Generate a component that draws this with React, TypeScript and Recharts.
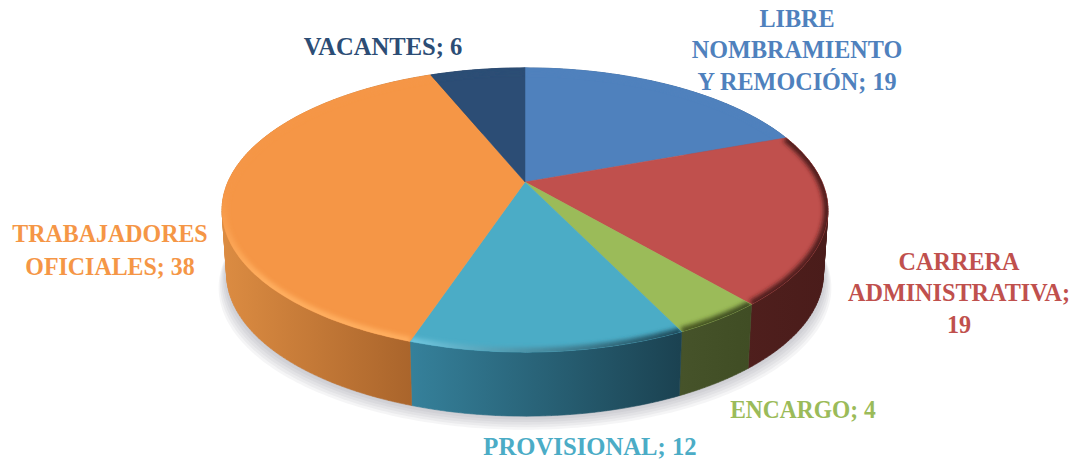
import React from "react";
import { PieChart, Pie, Cell } from "recharts";

const categories = ["LIBRE NOMBRAMIENTO Y REMOCIÓN", "CARRERA ADMINISTRATIVA", "ENCARGO", "PROVISIONAL", "TRABAJADORES OFICIALES", "VACANTES"];
const values = [19, 19, 4, 12, 38, 6];
const labelLines = [
  ["LIBRE", "NOMBRAMIENTO", "Y REMOCIÓN; 19"],
  ["CARRERA", "ADMINISTRATIVA;", "19"],
  ["ENCARGO; 4"],
  ["PROVISIONAL; 12"],
  ["TRABAJADORES", "OFICIALES; 38"],
  ["VACANTES; 6"],
];
const colors = ["#4f81bd", "#c0504d", "#9bbb59", "#4bacc6", "#f59646", "#2c4d75"];
const wallFrom = ["#3c618d", "#4f1f1d", "#46532a", "#35809a", "#dc8c42", "#213a58"];
const wallTo = ["#3c618d", "#4a1c1a", "#404d24", "#1b4251", "#a9642b", "#213a58"];
const rimFrom = ["#4f81bd", "#4f1f1d", "#4a5a25", "#6fc6de", "#f59646", "#2c4d75"];
const rimTo = ["#4f81bd", "#4f1f1d", "#3f4d20", "#1e4c5c", "#ffae5e", "#2c4d75"];
const shadowSteps = [16, 13, 10, 7, 4, 1];

const data = categories.map((name, i) => ({ name, value: values[i] }));

const CX = 525, CY = 182, R = 297, K = 0.197, BR = 0.46;
const DEPTH = 64, SHRINK = 0.985;
const FONT = "'Liberation Serif', serif";
const labelPos = [
  { x: 797, y: 27, dy: 31.5, sx: 0.93 },
  { x: 959, y: 270, dy: 31.5, sx: 0.93 },
  { x: 803, y: 418, dy: 0, sx: 0.905 },
  { x: 590, y: 455, dy: 0, sx: 0.95 },
  { x: 110, y: 242, dy: 33, sx: 0.92 },
  { x: 383, y: 55, dy: 0, sx: 0.945 },
];

type P = [number, number];
const project = (deg: number): P => {
  const t = (deg * Math.PI) / 180;
  const u = Math.sin(t), v = -Math.cos(t);
  const d = 1 - K * v;
  return [(R * u) / d, (R * BR * v) / d];
};
const arc = (a0: number, a1: number): P[] => {
  const n = Math.max(2, Math.ceil(Math.abs(a1 - a0)));
  const out: P[] = [];
  for (let i = 0; i <= n; i++) out.push(project(a0 + ((a1 - a0) * i) / n));
  return out;
};
const toD = (pts: P[], close = true) =>
  pts.map((p, i) => `${i ? "L" : "M"}${(CX + p[0]).toFixed(2)} ${(CY + p[1]).toFixed(2)}`).join("") + (close ? "Z" : "");
const lower = (p: P): P => [p[0] * SHRINK, p[1] + DEPTH];
const range = (props: any): [number, number] => [90 - props.startAngle, 90 - props.endAngle];

const wallPath = (rim: P[]) => {
  let d = "";
  for (let i = 0; i < rim.length - 1; i++) {
    const q: P[] = [rim[i], rim[i + 1], lower(rim[i + 1]), lower(rim[i])];
    let area = 0;
    q.forEach((p, j) => {
      const n = q[(j + 1) % 4];
      area += p[0] * n[1] - n[0] * p[1];
    });
    d += toD(area < 0 ? q.slice().reverse() : q);
  }
  return d;
};

// Soft drop shadow: nested translucent outlines of the disc's lower edge.
const ShadowShape = (props: any) => {
  const [a, b] = range(props);
  const base = arc(a, b).map((p) => lower(p));
  return (
    <g>
      {shadowSteps.map((s) => (
        <path
          key={s}
          d={toD([[0, DEPTH + 1], ...base.map((p): P => [p[0] * (1 + s / 600), p[1] + s * 0.85])])}
          fill="#5a5a64"
          fillOpacity={0.06}
        />
      ))}
    </g>
  );
};
const WallShape = (props: any) => {
  const [a, b] = range(props);
  return <path d={wallPath(arc(a, b))} fill={`url(#wall${props.index})`} stroke={`url(#wall${props.index})`} strokeWidth={0.6} />;
};
const TopShape = (props: any) => {
  const [a, b] = range(props);
  const rim = arc(a, b);
  const d = toD([[0, 0], ...rim]);
  const i = props.index;
  return (
    <g>
      <clipPath id={`clip${i}`}><path d={d} /></clipPath>
      <path d={d} fill={props.fill} stroke={props.fill} strokeWidth={0.5} />
      <g clipPath={`url(#clip${i})`}>
        <path d={toD(rim, false)} fill="none" stroke={`url(#rim${i})`} strokeWidth={9} filter="url(#bevel)" />
      </g>
    </g>
  );
};
const renderLabel = (props: any) => {
  const i = props.index;
  const pos = labelPos[i];
  return (
    <text key={i} transform={`translate(${pos.x} 0) scale(${pos.sx} 1)`} textAnchor="middle" fill={colors[i]} fontFamily={FONT} fontWeight={700} fontSize={26}>
      {labelLines[i].map((line, j) => (
        <tspan key={j} x={0} y={pos.y + j * pos.dy}>{line}</tspan>
      ))}
    </text>
  );
};

const common = {
  data, dataKey: "value", nameKey: "name", cx: CX, cy: CY, innerRadius: 0, outerRadius: R,
  startAngle: 90, endAngle: -270, paddingAngle: 0, stroke: "none", isAnimationActive: false, labelLine: false,
};

export default function App() {
  return (
    <div style={{ position: "absolute", left: 0, top: 0, width: 1080, height: 462, background: "#fff" }}>
      <PieChart width={1080} height={462} margin={{ top: 0, right: 0, bottom: 0, left: 0 }}>
        <defs>
          <filter id="bevel" filterUnits="userSpaceOnUse" x="0" y="0" width="1080" height="462">
            <feGaussianBlur stdDeviation="2" />
          </filter>
          {values.map((_, i) => {
            const xs: Record<number, [number, number]> = { 3: [413, 680], 4: [222, 414], 2: [680, 750], 1: [745, 828] };
            const [x1, x2] = xs[i] ?? [222, 828];
            const rimAxis = i === 4 ? { x1: 0, x2: 0, y1: 190, y2: 280 } : { x1, x2, y1: 0, y2: 0 };
            return (
              <React.Fragment key={i}>
                <linearGradient id={`wall${i}`} gradientUnits="userSpaceOnUse" x1={x1} x2={x2} y1={0} y2={0}>
                  <stop offset="0" stopColor={wallFrom[i]} />
                  <stop offset="1" stopColor={wallTo[i]} />
                </linearGradient>
                <linearGradient id={`rim${i}`} gradientUnits="userSpaceOnUse" {...rimAxis}>
                  <stop offset="0" stopColor={rimFrom[i]} />
                  <stop offset="1" stopColor={rimTo[i]} />
                </linearGradient>
              </React.Fragment>
            );
          })}
        </defs>
        <Pie {...common} shape={ShadowShape} />
        <Pie {...common} shape={WallShape} />
        <Pie {...common} shape={TopShape} label={renderLabel}>
          {values.map((_, i) => <Cell key={i} fill={colors[i]} />)}
        </Pie>
      </PieChart>
    </div>
  );
}
